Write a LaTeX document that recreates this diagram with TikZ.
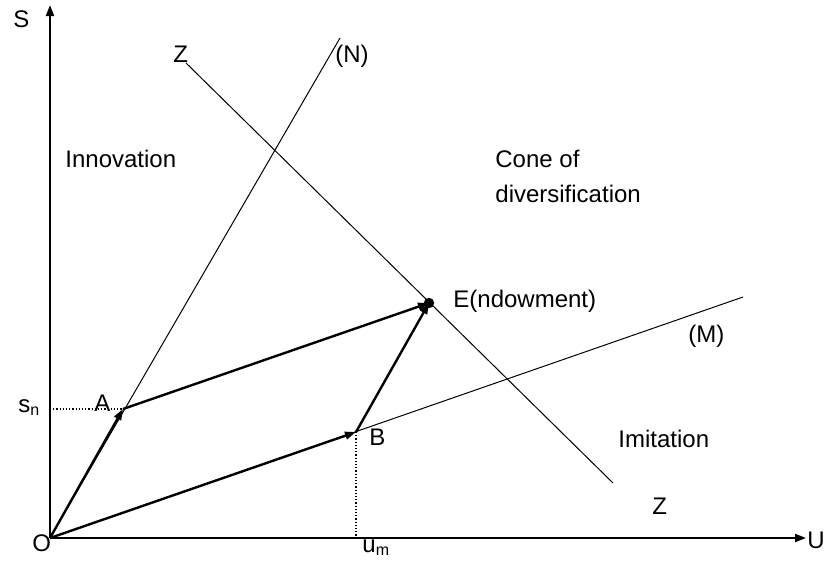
\documentclass[tikz,border=0pt]{standalone}
\usepackage{fontspec}
\setmainfont{Liberation Sans}
\usetikzlibrary{arrows.meta}

\begin{document}
\begin{tikzpicture}[
    x=0.5pt, y=-0.5pt,
    lbl/.style={inner sep=0pt, anchor=base west, font=\fontsize{12}{14}\selectfont},
    axis/.style={line width=1.1pt, -{Triangle[length=5.5pt, width=4pt]}},
    vec/.style={line width=1.2pt, -{Triangle[length=5.5pt, width=3.8pt]}},
    ray/.style={line width=0.5pt},
    guide/.style={line width=0.6pt, densely dotted},
  ]
  \useasboundingbox (0,0) rectangle (824,562);
  % points of the diagram
  \coordinate (O) at (50,538);
  \coordinate (A) at (123,409);
  \coordinate (B) at (356,432);
  \coordinate (E) at (429,303);
  \coordinate (Stop) at (50,5);
  \coordinate (Uend) at (806,538);
  \coordinate (Ntop) at (340,38);
  \coordinate (Mend) at (743,297);
  \coordinate (Ztop) at (186,63);
  \coordinate (Zbot) at (613,483);
  \coordinate (snaxis) at (50,409);
  \coordinate (umaxis) at (356,538);

  % axes
  \draw[axis] (O) -- (Stop);
  \draw[axis] (O) -- (Uend);
  % rays N, M and the line Z
  \draw[ray] (O) -- (Ntop);
  \draw[ray] (O) -- (Mend);
  \draw[ray] (Ztop) -- (Zbot);
  % projections on the axes
  \draw[guide] (snaxis) -- (A);
  \draw[guide] (B) -- (umaxis);
  % vectors
  \draw[vec] (O) -- (A);
  \draw[vec] (O) -- (B);
  \draw[vec] (A) -- (E);
  \draw[vec] (B) -- (E);
  \fill (E) circle (2.6pt);

  % labels
  \node[lbl] (lS) at (13,27) {S};
  \node[lbl] (lO) at (32,551) {O};
  \node[lbl] (lU) at (807,548) {U};
  \node[lbl] (lsn) at (18,412) {s\textsubscript{n}};
  \node[lbl] (lA) at (94,411) {A};
  \node[lbl] (lB) at (369,445) {B};
  \node[lbl] (lum) at (362,552) {u\textsubscript{m}};
  \node[lbl] (lE) at (453,307) {E(ndowment)};
  \node[lbl] (lN) at (335,62) {(N)};
  \node[lbl] (lZtop) at (173,62) {Z};
  \node[lbl] (lcone) at (495,167) {Cone of};
  \node[lbl] (ldiv) at (495,202) {diversification};
  \node[lbl] (linno) at (65,167) {Innovation};
  \node[lbl] (lM) at (688,342) {(M)};
  \node[lbl] (limit) at (618,447) {Imitation};
  \node[lbl] (lZbot) at (652,514) {Z};
\end{tikzpicture}
\end{document}
